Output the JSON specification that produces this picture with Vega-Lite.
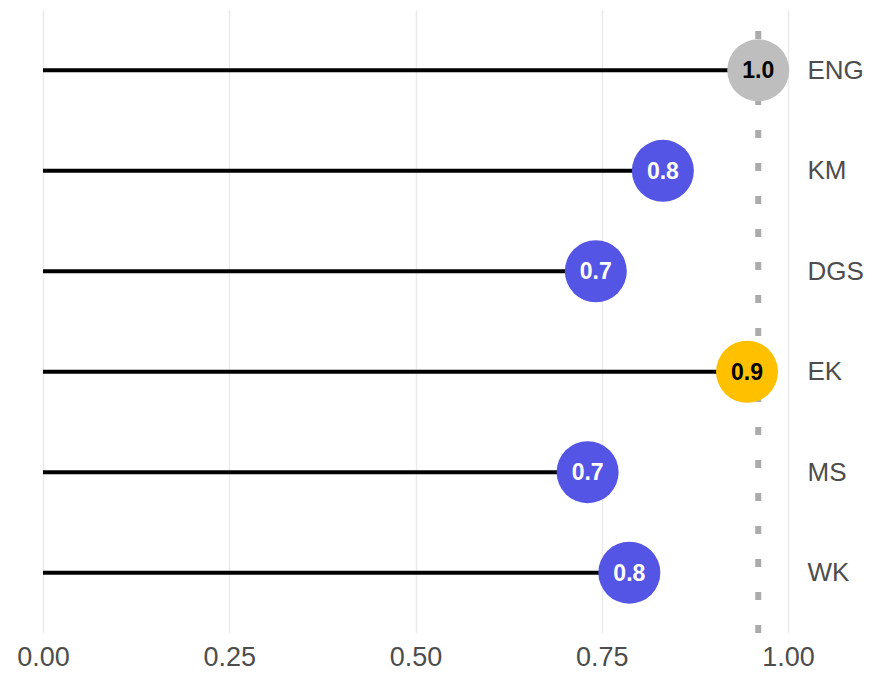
{
  "$schema": "https://vega.github.io/schema/vega-lite/v6.json",
  "autosize": "none",
  "width": 787,
  "height": 623,
  "padding": {"left": 7, "top": 10, "right": 81, "bottom": 45},
  "background": "white",
  "config": {"view": {"stroke": null}, "font": "Liberation Sans"},
  "data": {"values": [
    {"name": "ENG", "value": 0.96, "label": "1.0", "group": "ref"},
    {"name": "KM", "value": 0.832, "label": "0.8", "group": "low"},
    {"name": "DGS", "value": 0.742, "label": "0.7", "group": "low"},
    {"name": "EK", "value": 0.945, "label": "0.9", "group": "high"},
    {"name": "MS", "value": 0.731, "label": "0.7", "group": "low"},
    {"name": "WK", "value": 0.787, "label": "0.8", "group": "low"}
  ]},
  "layer": [
    {
      "mark": {"type": "rule", "strokeWidth": 4, "color": "black"},
      "encoding": {
        "y": {"field": "name", "type": "nominal", "sort": ["ENG", "KM", "DGS", "EK", "MS", "WK"],
          "scale": {"type": "point", "padding": 0.6},
          "axis": {"orient": "right", "title": null, "ticks": false, "domain": false, "grid": false,
            "labelFontSize": 26, "labelColor": "#4D4D4D", "labelPadding": 13, "labelFont": "Liberation Sans"}},
        "x": {"field": "value", "type": "quantitative",
          "scale": {"domain": [-0.0483, 1.008], "nice": false, "zero": false},
          "axis": {"values": [0, 0.25, 0.5, 0.75, 1], "format": ".2f", "title": null, "ticks": false, "domain": false,
            "grid": true, "gridColor": "#EBEBEB", "gridWidth": 1.5,
            "labelFontSize": 27, "labelColor": "#4D4D4D", "labelPadding": 11, "labelFont": "Liberation Sans"}},
        "x2": {"datum": 0}
      }
    },
    {
      "data": {"values": [{"ref": 0.96}]},
      "mark": {"type": "rule", "color": "#ABABAB", "strokeWidth": 6, "strokeDash": [8, 25], "strokeDashOffset": 12},
      "encoding": {"x": {"field": "ref", "type": "quantitative"}}
    },
    {
      "mark": {"type": "point", "filled": true, "size": 3844, "opacity": 1},
      "encoding": {
        "y": {"field": "name", "type": "nominal", "sort": ["ENG", "KM", "DGS", "EK", "MS", "WK"]},
        "x": {"field": "value", "type": "quantitative"},
        "color": {"field": "group", "type": "nominal",
          "scale": {"domain": ["ref", "low", "high"], "range": ["#BEBEBE", "#5555E5", "#FFC000"]}, "legend": null}
      }
    },
    {
      "mark": {"type": "text", "fontSize": 23, "fontWeight": "bold", "font": "Liberation Sans", "baseline": "middle", "align": "center", "dy": 1},
      "encoding": {
        "y": {"field": "name", "type": "nominal", "sort": ["ENG", "KM", "DGS", "EK", "MS", "WK"]},
        "x": {"field": "value", "type": "quantitative"},
        "text": {"field": "label"},
        "color": {"field": "group", "type": "nominal",
          "scale": {"domain": ["ref", "low", "high"], "range": ["#000000", "#FFFFFF", "#000000"]}, "legend": null}
      }
    }
  ],
  "resolve": {"scale": {"color": "independent"}}
}
